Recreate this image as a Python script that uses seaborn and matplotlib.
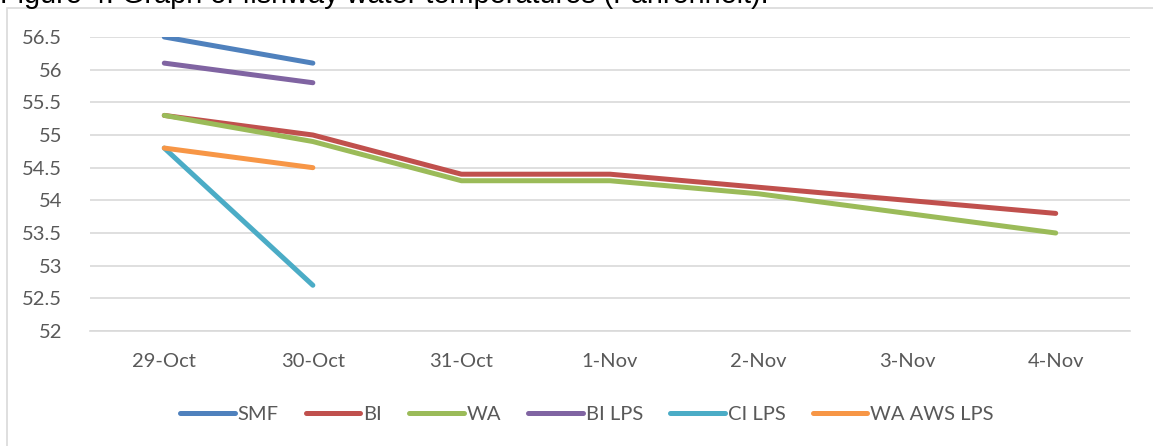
import numpy as np
import pandas as pd
import matplotlib
matplotlib.use('Agg')
import matplotlib.pyplot as plt
import matplotlib.patches as mpatches
import seaborn as sns

#%% data
dates = ['29-Oct', '30-Oct', '31-Oct', '1-Nov', '2-Nov', '3-Nov', '4-Nov']

smf = [56.5, 56.1]
bi = [55.3, 55.0, 54.4, 54.4, 54.2, 54.0, 53.8]
wa = [55.3, 54.9, 54.3, 54.3, 54.1, 53.8, 53.5]
bi_lps = [56.1, 55.8]
ci_lps = [54.8, 52.7]
wa_aws_lps = [54.8, 54.5]

series_names = ['SMF', 'BI', 'WA', 'BI LPS', 'CI LPS', 'WA AWS LPS']
series_vals = [smf, bi, wa, bi_lps, ci_lps, wa_aws_lps]
y_ticks = [52, 52.5, 53, 53.5, 54, 54.5, 55, 55.5, 56, 56.5]

palette = {
    'SMF': '#4F81BD',
    'BI': '#C0504D',
    'WA': '#9BBB59',
    'BI LPS': '#8064A2',
    'CI LPS': '#4BACC6',
    'WA AWS LPS': '#F79646',
}

rows = []
for name, vals in zip(series_names, series_vals):
    for d, v in zip(dates, vals):
        rows.append({'date': d, 'temp': v, 'series': name})
df = pd.DataFrame(rows)
df['date'] = pd.Categorical(df['date'], categories=dates, ordered=True)
df['xpos'] = df['date'].cat.codes

#%%
sns.set_style('white')
plt.rcParams['font.family'] = ['Lato', 'DejaVu Sans']
grey_txt = '#595959'
grid_c = '#D9D9D9'
fs = 14.5

fig = plt.figure(figsize=(11.53, 4.46), dpi=100)
ax = fig.add_axes([90/1153, 1-331/446, (1130-90)/1153, (331-37)/446])

sns.lineplot(data=df, x='xpos', y='temp', hue='series', hue_order=series_names,
             palette=palette, linewidth=3.6, ax=ax, legend=False,
             solid_capstyle='round', sort=False)

ax.set_xlim(-0.5, len(dates) - 0.5)
ax.set_ylim(52, 56.5)
ax.set_yticks(y_ticks)
ax.set_yticklabels([f'{t:g}' for t in y_ticks])
ax.set_xticks(range(len(dates)))
ax.set_xticklabels(dates)
ax.set_xticks(np.arange(-0.5, len(dates), 1), minor=True)
ax.tick_params(axis='x', which='major', length=0, pad=16, labelsize=fs, colors=grey_txt)
ax.tick_params(axis='x', which='minor', length=6, width=1.2, color=grid_c, direction='out')
ax.tick_params(axis='y', length=0, pad=20, labelsize=fs, colors=grey_txt)
ax.grid(axis='y', color=grid_c, linewidth=1.2)
ax.set_axisbelow(True)
for s in ['top', 'right', 'left']:
    ax.spines[s].set_visible(False)
ax.spines['bottom'].set_color(grid_c)
ax.spines['bottom'].set_linewidth(1.2)
ax.set_xlabel('')
ax.set_ylabel('')

# legend
handles = [plt.Line2D([0], [0], color=palette[n], linewidth=3.6, solid_capstyle='round')
           for n in series_names]
leg = fig.legend(handles, series_names, loc='center', bbox_to_anchor=(0.509, 1-414/446),
                 ncol=6, frameon=False, handlelength=2.7, handletextpad=0.15,
                 columnspacing=1.35, fontsize=fs)
for t in leg.get_texts():
    t.set_color(grey_txt)

# chart area border and cut-off caption above it
fig.patches.append(mpatches.Rectangle((7/1153, -0.05), 1.1, 1-8/446+0.05,
                                      transform=fig.transFigure, fill=False,
                                      edgecolor=grid_c, linewidth=1.2))
fig.text(0.0, 1-3/446, 'Figure 4: Graph of fishway water temperatures (Fahrenheit).',
         family=['Liberation Sans', 'DejaVu Sans'], fontsize=20.8, color='black',
         va='baseline', ha='left')

plt.savefig('out.png', dpi=100)
